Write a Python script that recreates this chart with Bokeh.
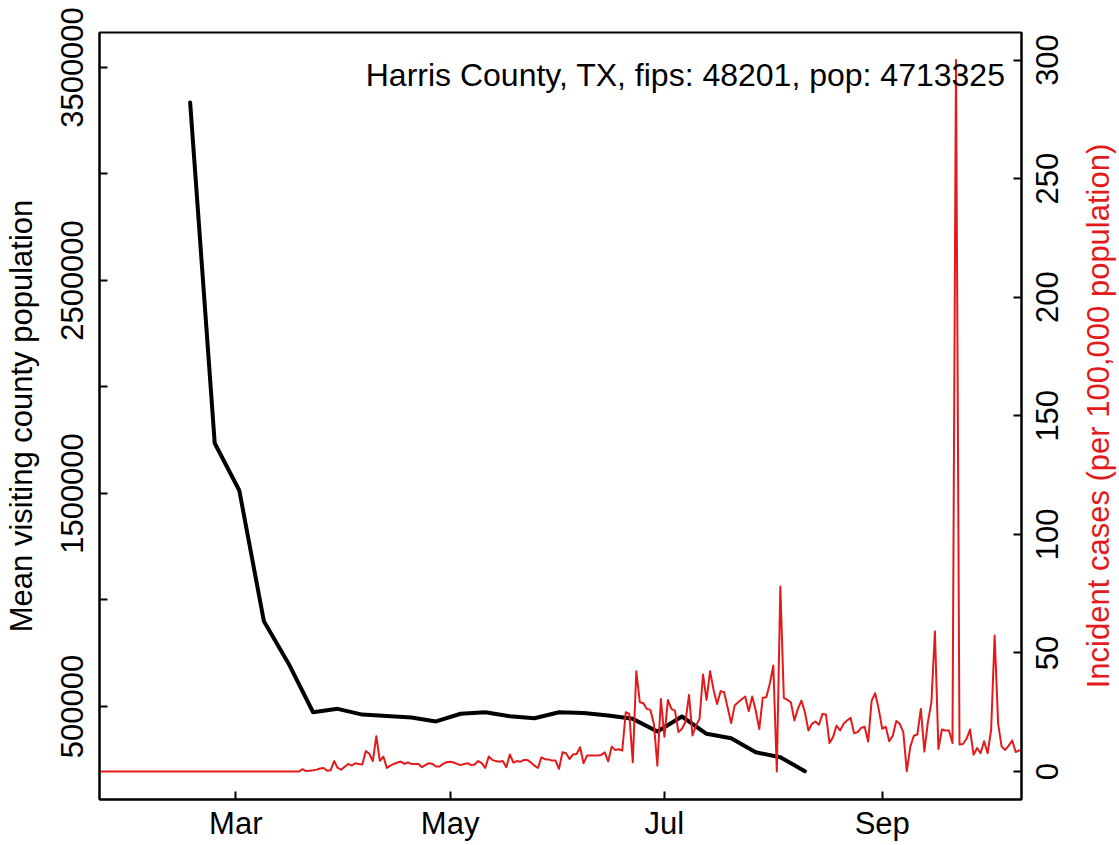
import math
import pandas as pd
from bokeh.plotting import figure
from bokeh.layouts import row
from bokeh.models import Range1d, LinearAxis, FixedTicker, DatetimeTickFormatter, Label
from bokeh.core.properties import value
from bokeh.embed import file_html
from bokeh.resources import INLINE

FONT = "Liberation Sans"
RED = "#E31A1C"

title_text = "Harris County, TX, fips: 48201, pop: 4713325"
left_label = "Mean visiting county population"
right_label = "Incident cases (per 100,000 population)"

# weekly mean visiting county population (starting 2020-02-17)
visit_start = "2020-02-17"
visit_values = [3336000, 1736000, 1514000, 900000, 702000, 473000, 489000, 462000,
                455000, 448000, 430000, 466000, 473000, 454000, 445000, 473000,
                470000, 458000, 442000, 383000, 453000, 372000, 351000, 285000,
                262000, 196000]

# daily incident cases per 100,000 (starting 2020-01-21)
cases_start = "2020-01-21"
cases_values = [
    0, 0, 0, 0, 0, 0, 0, 0, 0, 0,
    0, 0, 0, 0, 0, 0, 0, 0, 0, 0,
    0, 0, 0, 0, 0, 0, 0, 0, 0, 0,
    0, 0, 0, 0, 0, 0, 0, 0, 0, 0,
    0, 0, 0, 0, 0, 0, 0, 0, 0, 0,
    0, 0, 0, 0, 0, 0, 0, 0, 0,
    1.0, 0.2, 0.3, 0.5, 0.8, 1.3, 1.5, 0.3, 0.5, 4.4,
    1.5, 0.8, 2.0, 3.2, 2.5, 3.5, 3.2, 3.0, 8.6, 7.5,
    4.4, 14.9, 4.5, 6.3, 1.5, 2.5, 3.2, 3.8, 4.2, 3.2,
    3.8, 3.2, 3.2, 3.2, 1.8, 2.8, 3.5, 3.2, 2.1, 2.1,
    3.2, 3.9, 4.1, 3.8, 3.2, 2.7, 3.2, 3.5, 2.7, 3.0,
    4.4, 3.5, 1.5, 6.3, 4.9, 4.4, 4.1, 4.4, 1.8, 7.2,
    3.8, 4.4, 4.1, 4.9, 4.9, 3.8, 2.5, 1.5, 6.0, 5.2,
    5.1, 4.6, 4.6, 1.1, 8.1, 7.7, 5.3, 7.2, 7.4, 10.2,
    3.5, 6.8, 6.8, 6.8, 6.8, 7.0, 8.1, 4.3, 10.5, 9.1,
    9.4, 8.8, 25.0, 24.3, 3.9, 42.3, 29.2, 28.8, 26.4, 26.0,
    20.1, 2.5, 30.6, 14.7, 30.2, 26.4, 25.7, 16.6, 18.0, 21.0,
    32.3, 15.2, 19.4, 22.2, 40.9, 30.2, 42.3, 34.4, 28.5, 33.9,
    33.4, 27.0, 20.4, 27.8, 29.2, 30.5, 31.6, 25.4, 31.6, 25.7,
    17.9, 31.1, 31.3, 37.0, 44.7, 0.0, 78.0, 31.0, 30.2, 29.2,
    21.5, 26.4, 29.9, 25.0, 17.3, 20.1, 21.1, 19.7, 24.3, 24.0,
    12.0, 14.5, 19.4, 17.3, 20.1, 21.5, 22.6, 16.1, 16.6, 18.4,
    18.9, 12.6, 29.9, 33.0, 26.4, 18.0, 18.9, 12.8, 15.1, 21.3,
    20.1, 16.6, 0.1, 10.5, 15.1, 15.6, 26.4, 8.4, 20.8, 29.2,
    59.0, 9.5, 17.7, 17.3, 17.3, 12.0, 300.0, 11.4, 11.6, 13.8,
    17.7, 7.1, 9.9, 7.7, 12.8, 7.7, 17.5, 57.3, 20.1, 10.5,
    9.1, 10.9, 13.1, 8.2, 8.9, 9.0,
]

x_ticks = ["2020-03-01", "2020-05-01", "2020-07-01", "2020-09-01"]
left_ticks = [500000, 1000000, 1500000, 2000000, 2500000, 3000000, 3500000]
left_tick_labels = ["500000", "", "1500000", "", "2500000", "", "3500000"]
right_ticks = [0, 50, 100, 150, 200, 250, 300]
right_tick_labels = ["0", "50", "100", "150", "200", "250", "300"]

visit_dates = pd.date_range(visit_start, periods=len(visit_values), freq="7D")
cases_dates = pd.date_range(cases_start, periods=len(cases_values), freq="D")


def ms(ts):
    return pd.Timestamp(ts).value / 1e6


W, H = 1119, 845
FL, FR, FT, FB = 99, 1021, 32, 799  # plot frame edges in page pixels
MAIN_W = FR + 6                      # main figure width; a side strip holds the right-hand texts

ref = pd.Timestamp("2020-03-01")
x0 = ms(ref - pd.Timedelta(days=38.8))
x1 = ms(ref + pd.Timedelta(days=223.65))
y0, y1 = 63380, 3664319
r0, r1 = -11.8, 311.6

p = figure(width=MAIN_W, height=H, x_axis_type="datetime",
           x_range=Range1d(x0, x1), y_range=Range1d(y0, y1),
           output_backend="svg", toolbar_location=None)
p.extra_y_ranges = {"cases": Range1d(r0, r1)}
p.min_border_left = FL
p.min_border_right = MAIN_W - FR
p.min_border_top = FT
p.min_border_bottom = H - FB
p.xgrid.visible = False
p.ygrid.visible = False
p.outline_line_color = "black"
p.outline_line_width = 2
p.outline_line_alpha = 1.0
p.background_fill_color = "white"
p.border_fill_color = "white"

p.line(visit_dates, visit_values, line_color="black", line_width=4, line_join="round", line_cap="round")
p.line(cases_dates, cases_values, y_range_name="cases", line_color=RED, line_width=2, line_join="round")

right_axis = LinearAxis(y_range_name="cases")
p.add_layout(right_axis, "right")

FS = "31px"
for ax in [p.xaxis[0], p.yaxis[0], right_axis]:
    ax.axis_line_width = 2
    ax.axis_line_color = "black"
    ax.major_tick_line_width = 2
    ax.major_tick_in = 8
    ax.major_tick_out = 0
    ax.minor_tick_line_color = None
    ax.major_label_text_font = FONT
    ax.major_label_text_font_size = FS
    ax.major_label_text_color = "black"
    ax.axis_label_text_font = FONT
    ax.axis_label_text_font_size = FS
    ax.axis_label_text_font_style = "normal"
    ax.axis_label_text_color = "black"

xa = p.xaxis[0]
xa.ticker = FixedTicker(ticks=[ms(t) for t in x_ticks])
xa.formatter = DatetimeTickFormatter(months="%b", days="%b", years="%b", hours="%b",
                                     minutes="%b", seconds="%b", milliseconds="%b", hourmin="%b")
xa.major_label_standoff = 6

ya = p.yaxis[0]
ya.ticker = FixedTicker(ticks=left_ticks)
ya.major_label_overrides = {t: l for t, l in zip(left_ticks, left_tick_labels)}
ya.major_label_orientation = "vertical"
ya.major_label_standoff = 16
ya.axis_label = left_label
ya.axis_label_standoff = 20

# right axis of the main plot: ticks only; its labels (reading bottom-to-top) sit in the side strip
right_axis.ticker = FixedTicker(ticks=right_ticks)
right_axis.major_label_overrides = {t: "" for t in right_ticks}
right_axis.major_label_text_font_size = "1px"
right_axis.major_label_standoff = 0

# annotation in upper right of the plot region
def x_at(px):
    return x0 + (px - FL) / (FR - FL) * (x1 - x0)


ly = y1 - (74 - FT) / (FB - FT) * (y1 - y0)
p.add_layout(Label(x=x_at(1005), y=ly, text=title_text, text_align="right", text_baseline="alphabetic",
                   text_font=FONT, text_font_size="32px", text_color="black"))

# side strip sharing the vertical scale of the cases axis
side = figure(width=W - MAIN_W, height=H, x_range=Range1d(MAIN_W, W), y_range=Range1d(r0, r1),
              output_backend="svg", toolbar_location=None,
              x_axis_location=None, y_axis_location=None)
side.min_border_left = 0
side.min_border_right = 0
side.min_border_top = FT
side.min_border_bottom = H - FB
side.outline_line_color = None
side.xgrid.visible = False
side.ygrid.visible = False
side.background_fill_color = "white"
side.border_fill_color = "white"

side.text(x=[1046] * len(right_ticks), y=right_ticks, text=right_tick_labels, angle=math.pi / 2,
          text_align="center", text_baseline="alphabetic",
          text_font=value(FONT), text_font_size=FS, text_color="black")
side.add_layout(Label(x=1098, y=(r0 + r1) / 2, text=right_label, angle=math.pi / 2,
                      text_align="center", text_baseline="alphabetic",
                      text_font=FONT, text_font_size=FS, text_color=RED))

layout = row(p, side)
open("out.html", "w").write(file_html(layout, INLINE))
